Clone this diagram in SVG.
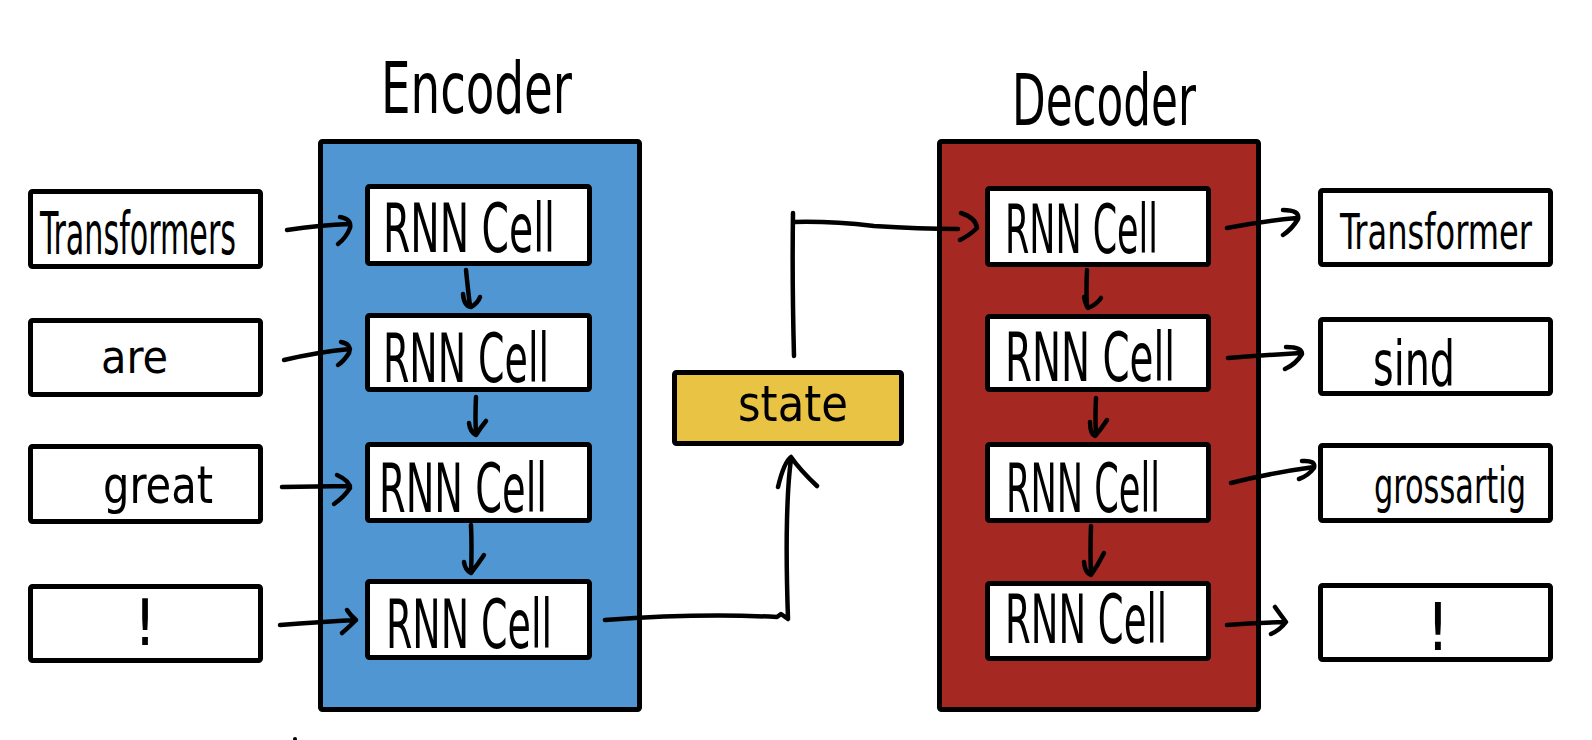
<svg xmlns="http://www.w3.org/2000/svg" width="1592" height="740" viewBox="0 0 1592 740">
<style>
.box{fill:#ffffff;stroke:#000;stroke-width:5;stroke-linejoin:round}
.enc{fill:#4F96D3;stroke:#000;stroke-width:5;stroke-linejoin:round}
.dec{fill:#A62823;stroke:#000;stroke-width:5;stroke-linejoin:round}
.st{fill:#E9C343;stroke:#000;stroke-width:5;stroke-linejoin:round}
.conn path{fill:none;stroke:#000;stroke-width:4.5;stroke-linecap:round;stroke-linejoin:round}
.t{font-family:"Liberation Sans Narrow","DejaVu Sans Condensed","Liberation Sans",sans-serif;fill:#000}
</style>
<rect width="1592" height="740" fill="#ffffff"/>
<g id="encoder">
<rect class="enc" x="320.5" y="141.5" width="319" height="568" rx="2"/>
<text class="t" x="381" y="113" font-size="72" textLength="191" lengthAdjust="spacingAndGlyphs">Encoder</text>
</g>
<g id="decoder">
<rect class="dec" x="939.5" y="141.5" width="319" height="568" rx="2"/>
<text class="t" x="1012" y="125" font-size="72" textLength="184" lengthAdjust="spacingAndGlyphs">Decoder</text>
</g>
<g id="in1"><rect class="box" x="30.5" y="191.5" width="230" height="75" rx="2"/><text class="t" x="40" y="254" font-size="58" textLength="196" lengthAdjust="spacingAndGlyphs">Transformers</text></g>
<g id="in2"><rect class="box" x="30.5" y="320.5" width="230" height="74" rx="2"/><text class="t" x="101" y="373" font-size="46" textLength="67" lengthAdjust="spacingAndGlyphs">are</text></g>
<g id="in3"><rect class="box" x="30.5" y="446.5" width="230" height="75" rx="2"/><text class="t" x="103" y="503" font-size="52" textLength="110" lengthAdjust="spacingAndGlyphs">great</text></g>
<g id="in4"><rect class="box" x="30.5" y="586.5" width="230" height="74" rx="2"/><text class="t" x="145" y="645" font-size="64" text-anchor="middle">!</text></g>
<g id="enc1"><rect class="box" x="367.5" y="186.5" width="222" height="77" rx="2"/><text class="t" x="383" y="252" font-size="68" textLength="172" lengthAdjust="spacingAndGlyphs">RNN Cell</text></g>
<g id="enc2"><rect class="box" x="367.5" y="315.5" width="222" height="74" rx="2"/><text class="t" x="383" y="382" font-size="68" textLength="166" lengthAdjust="spacingAndGlyphs">RNN Cell</text></g>
<g id="enc3"><rect class="box" x="367.5" y="444.5" width="222" height="76" rx="2"/><text class="t" x="379" y="512" font-size="68" textLength="168" lengthAdjust="spacingAndGlyphs">RNN Cell</text></g>
<g id="enc4"><rect class="box" x="367.5" y="581.5" width="222" height="76" rx="2"/><text class="t" x="386" y="648" font-size="68" textLength="166" lengthAdjust="spacingAndGlyphs">RNN Cell</text></g>
<g id="state"><rect class="st" x="674.5" y="372.5" width="227" height="71" rx="2"/><text class="t" x="738" y="421" font-size="50" textLength="110" lengthAdjust="spacingAndGlyphs">state</text></g>
<g id="dec1"><rect class="box" x="987.5" y="188.5" width="221" height="76" rx="2"/><text class="t" x="1005" y="253" font-size="68" textLength="153" lengthAdjust="spacingAndGlyphs">RNN Cell</text></g>
<g id="dec2"><rect class="box" x="987.5" y="316.5" width="221" height="73" rx="2"/><text class="t" x="1005" y="381" font-size="68" textLength="170" lengthAdjust="spacingAndGlyphs">RNN Cell</text></g>
<g id="dec3"><rect class="box" x="987.5" y="444.5" width="221" height="76" rx="2"/><text class="t" x="1006" y="512" font-size="68" textLength="154" lengthAdjust="spacingAndGlyphs">RNN Cell</text></g>
<g id="dec4"><rect class="box" x="987.5" y="583.5" width="221" height="75" rx="2"/><text class="t" x="1005" y="643" font-size="68" textLength="162" lengthAdjust="spacingAndGlyphs">RNN Cell</text></g>
<g id="out1"><rect class="box" x="1320.5" y="190.5" width="230" height="74" rx="2"/><text class="t" x="1436" y="249" font-size="50" text-anchor="middle" textLength="192" lengthAdjust="spacingAndGlyphs">Transformer</text></g>
<g id="out2"><rect class="box" x="1320.5" y="319.5" width="230" height="74" rx="2"/><text class="t" x="1373" y="385" font-size="62" textLength="82" lengthAdjust="spacingAndGlyphs">sind</text></g>
<g id="out3"><rect class="box" x="1320.5" y="445.5" width="230" height="75" rx="2"/><text class="t" x="1450" y="503" font-size="50" text-anchor="middle" textLength="152" lengthAdjust="spacingAndGlyphs">grossartig</text></g>
<g id="out4"><rect class="box" x="1320.5" y="585.5" width="230" height="74" rx="2"/><text class="t" x="1438" y="650" font-size="66" text-anchor="middle">!</text></g>
<g class="conn" id="connectors">
<path d="M287,230 Q320,225 350,224 M340,217 Q352,219 350,228 Q346,238 338,244"/>
<path d="M284,360 Q318,352 350,349 M341,342 Q352,344 349,353 Q344,361 338,365"/>
<path d="M282,487 L350,486 M337,475 Q350,481 350,488 Q344,497 334,504"/>
<path d="M280,625 Q320,622 356,620 M347,610 Q350,615 356,620 Q348,628 342,633"/>
<path d="M466,270 Q468,290 470,306 M463,294 Q464,306 471,307 Q478,303 480,297"/>
<path d="M476,397 Q475,418 476,434 M469,423 Q470,432 476,435 Q481,427 486,421"/>
<path d="M471,525 Q472,550 471,572 M464,562 Q465,570 471,573 Q478,564 484,555"/>
<path d="M1087,270 Q1086,290 1087,306 M1084,297 Q1086,306 1088,308 Q1096,305 1101,298"/>
<path d="M1096,398 Q1095,418 1096,435 M1090,422 Q1090,434 1095,436 Q1102,428 1107,420"/>
<path d="M1091,526 Q1090,552 1091,574 M1084,562 Q1085,573 1091,575 Q1098,565 1104,553"/>
<path d="M1227,228 Q1262,221 1297,218 M1283,210 Q1300,210 1298,219 Q1292,229 1283,235"/>
<path d="M1228,358 Q1265,355 1301,353 M1286,347 Q1302,347 1302,354 Q1296,364 1285,369"/>
<path d="M1231,483 Q1270,473 1314,467 M1302,461 Q1316,460 1314,468 Q1308,476 1299,479"/>
<path d="M1227,625 Q1255,623 1285,622 M1275,607 Q1280,614 1286,622 Q1280,630 1271,634"/>
<path d="M605,620 Q700,613 777,617 L781,614 L788,619 Q786,560 787,520 Q788,480 791,460 M778,487 Q784,462 791,457 Q800,470 817,486"/>
<path d="M794,356 Q792,280 793,213 M794,222 Q830,221 874,226 Q920,229 958,229 M961,213 Q976,218 977,228 Q970,235 960,240"/>
</g>
<circle cx="295" cy="739" r="2" fill="#000"/>
</svg>
